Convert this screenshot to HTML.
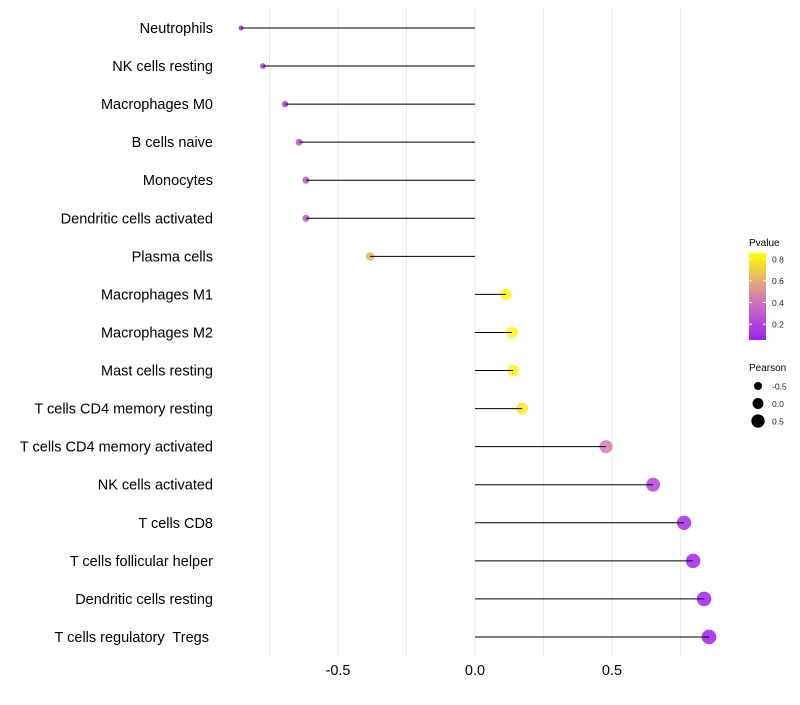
<!DOCTYPE html>
<html><head><meta charset="utf-8"><style>
body{margin:0;background:#fff;font-family:"Liberation Sans",sans-serif}
svg text{font-family:"Liberation Sans",sans-serif;white-space:pre}
</style></head><body>
<svg id="chart" width="800" height="700" xmlns="http://www.w3.org/2000/svg">
<g id="grid"></g>
<g id="points"></g>
<g id="marks"></g>
<g id="ylabels"></g>
<g id="xlabels"></g>
<g id="legend">
<defs><linearGradient id="pg" x1="0" y1="1" x2="0" y2="0">
<stop offset="0" stop-color="#a020f0"/><stop offset="0.5" stop-color="#d67fb0"/><stop offset="1" stop-color="#ffff00"/></linearGradient></defs>
<text x="749" y="246" font-size="10">Pvalue</text>
<rect x="749" y="253" width="17" height="87" fill="url(#pg)"/>
<g id="cbticks"></g>
<text x="749" y="371" font-size="10">Pearson</text>
<g id="sizeleg"></g>
</g>
</svg>
<script>
const categories=["Neutrophils","NK cells resting","Macrophages M0","B cells naive","Monocytes","Dendritic cells activated","Plasma cells","Macrophages M1","Macrophages M2","Mast cells resting","T cells CD4 memory resting","T cells CD4 memory activated","NK cells activated","T cells CD8","T cells follicular helper","Dendritic cells resting","T cells regulatory  Tregs "];
const pearson=[-0.854,-0.774,-0.693,-0.642,-0.617,-0.617,-0.383,0.113,0.135,0.139,0.172,0.478,0.65,0.763,0.796,0.836,0.854];
const pvalue=[0.07,0.15,0.2,0.26,0.28,0.28,0.62,0.85,0.82,0.82,0.78,0.45,0.2,0.1,0.08,0.06,0.055];
const xTicks=[-0.5,0,0.5];
const xTickLabels=["-0.5","0.0","0.5"];
const cbTicks=[0.2,0.4,0.6,0.8];
const sizeLegend=[-0.5,0,0.5];
const sizeLegendLabels=["-0.5","0.0","0.5"];

const NS="http://www.w3.org/2000/svg";
const X=v=>475+v*274;
const Y=i=>28+i*38.06;
const R=v=>Math.sqrt(Math.max(1,30+28*v));
const pMin=0.055,pMax=0.855;
const CB=p=>340-(p-pMin)/(pMax-pMin)*87;
function hex(c){return[parseInt(c.slice(1,3),16),parseInt(c.slice(3,5),16),parseInt(c.slice(5,7),16)];}
const stops=[[0,hex("#a020f0")],[0.5,hex("#d67fb0")],[1,hex("#ffff00")]];
function color(p){let t=Math.max(0,Math.min(1,(p-pMin)/(pMax-pMin)));let a=t<0.5?stops[0]:stops[1],b=t<0.5?stops[1]:stops[2];let u=(t-a[0])/(b[0]-a[0]);return "rgb("+a[1].map((c,k)=>Math.round(c+(b[1][k]-c)*u)).join(",")+")";}
function mk(tag,attrs,parent){const e=document.createElementNS(NS,tag);for(const k in attrs)e.setAttribute(k,attrs[k]);parent.appendChild(e);return e;}
const grid=document.getElementById('grid'),marks=document.getElementById('marks'),pts=document.getElementById('points'),yl=document.getElementById('ylabels'),xl=document.getElementById('xlabels');
[-0.75,-0.5,-0.25,0,0.25,0.5,0.75].forEach(v=>{
 const l=mk('line',{x1:X(v),x2:X(v),y1:8,y2:657,stroke:'#ebebeb','stroke-width':1},grid);
 
 
});
categories.forEach((c,i)=>{
 const y=Y(i);
 const d=mk('circle',{cx:X(pearson[i]),cy:y,r:R(pearson[i]),fill:color(pvalue[i]),'fill-opacity':0.85},pts);
 
 
 const s=mk('line',{x1:X(0),x2:X(pearson[i]),y1:y,y2:y,stroke:'#000','stroke-width':1},marks);
 
 
 const t=mk('text',{x:213,y:y+5,'text-anchor':'end','font-size':14.5,fill:'#000'},yl);
 t.textContent=c;
 
 
});
xTicks.forEach((v,i)=>{
 const t=mk('text',{x:X(v),y:675,'text-anchor':'middle','font-size':14.5,fill:'#000'},xl);
 t.textContent=xTickLabels[i];
 
 
});
const cbt=document.getElementById('cbticks');
cbTicks.forEach(v=>{
 const y=CB(v);
 mk('line',{x1:749,x2:752,y1:y,y2:y,stroke:'#fff'},cbt);
 mk('line',{x1:763,x2:766,y1:y,y2:y,stroke:'#fff'},cbt);
 const t=mk('text',{x:772,y:y+3.5,'font-size':8.5,fill:'#222'},cbt);
 t.textContent=v.toFixed(1);
 
 
});
const sl=document.getElementById('sizeleg');
sizeLegend.forEach((v,i)=>{
 const y=386+i*17.5;
 const c=mk('circle',{cx:758,cy:y,r:R(v),fill:'#000'},sl);
 
 
 const t=mk('text',{x:772,y:y+3.5,'font-size':8.5,fill:'#222'},sl);
 t.textContent=sizeLegendLabels[i];
 
 
});
</script>
</body></html>
